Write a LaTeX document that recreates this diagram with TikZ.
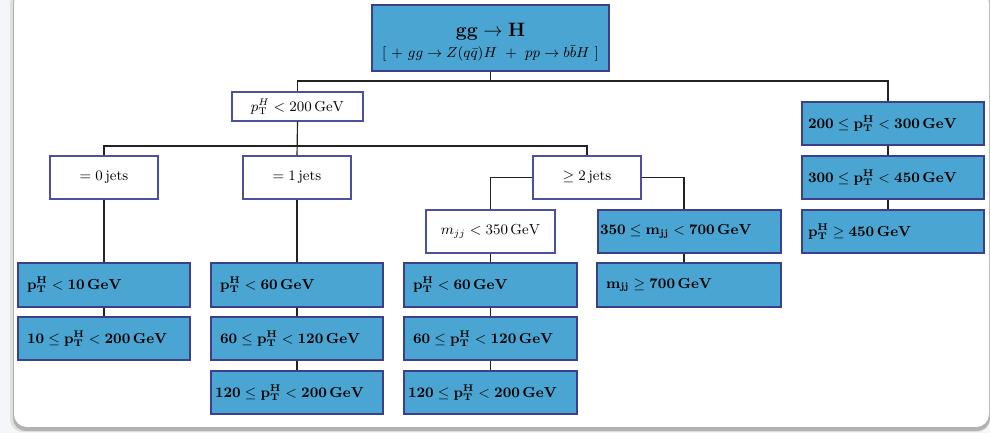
\documentclass[tikz,border=0pt]{standalone}
\usepackage{amsmath}
\usetikzlibrary{calc}
\definecolor{bgcol}{HTML}{F5F6FA}
\definecolor{boxblue}{HTML}{4AA5D2}
\definecolor{navy}{HTML}{3B3F8C}
\definecolor{wnavy}{HTML}{4B50A0}
\definecolor{linec}{HTML}{222222}
\newcommand\GeV{\,\mathrm{GeV}}
\newcommand\bGeV{\,\mathbf{GeV}}
\begin{document}
\begin{tikzpicture}[x=0.62pt,y=-0.62pt,
  every node/.style={font=\small},
  sz/.style 2 args={minimum width=#1*0.62pt, minimum height=#2*0.62pt},
  wbox/.style 2 args={draw=wnavy, line width=0.9pt, fill=white, sz={#1}{#2}, inner sep=0pt},
  bbox/.style n args={3}{draw=navy, line width=0.9pt, fill=boxblue, minimum height=#2*0.62pt,
     inner ysep=0pt, inner xsep=#3*0.62pt, text width={(#1-2*#3)*0.62pt}, align=left},
  conn/.style={draw=linec, line width=0.7pt}]
\useasboundingbox (0,0) rectangle (990,433);
% card
\fill[bgcol] (0,0) rectangle (990,433);
\fill[gray!25, rounded corners=8] (10,-10) rectangle (990,432);
\fill[gray!60, rounded corners=8] (13,-10) rectangle (990,431);
\fill[white, rounded corners=8] (14,-10) rectangle (989,427);

% nodes
\node[draw=navy, line width=0.9pt, fill=boxblue, sz={237}{66}, inner sep=0pt, align=center] (root) at (490.5,38)
  {\rule{0pt}{14pt}{\large$\mathbf{gg \rightarrow H}$}\\[2pt] $[\ +\ gg \rightarrow Z(q\bar{q})H\ +\ pp \rightarrow b\bar{b}H\ ]$};
\node[wbox={131}{29}] (pt) at (297.5,106.5) {$p_{\mathrm{T}}^{H} < 200\GeV$};

\node[wbox={108}{43}] (j0) at (104,177.5) {$= 0\,$jets};
\node[wbox={108}{43}] (j1) at (297,177.5) {$= 1\,$jets};
\node[wbox={108}{43}] (j2) at (587,177.5) {$\geq 2\,$jets};

\node[wbox={129}{43}] (mlow) at (490.5,231.5) {$m_{jj} < 350\GeV$};
\node[bbox={183}{43}{2}] (mmid) at (689.5,231.5) {$\mathbf{350 \leq m_{jj} < 700}\bGeV$};
\node[bbox={184}{44}{9}] (mhigh) at (689,285) {$\mathbf{m_{jj} \geq 700}\bGeV$};

\node[bbox={172}{44}{9}] (a1) at (104,285) {$\mathbf{p_T^H < 10}\bGeV$};
\node[bbox={172}{43}{9}] (a2) at (104,338.5) {$\mathbf{10 \leq p_T^H < 200}\bGeV$};

\node[bbox={172}{44}{9}] (b1) at (297,285) {$\mathbf{p_T^H < 60}\bGeV$};
\node[bbox={172}{43}{9}] (b2) at (297,338.5) {$\mathbf{60 \leq p_T^H < 120}\bGeV$};
\node[bbox={172}{43}{4}] (b3) at (297,392.5) {$\mathbf{120 \leq p_T^H < 200}\bGeV$};

\node[bbox={173}{44}{9}] (c1) at (490.5,285) {$\mathbf{p_T^H < 60}\bGeV$};
\node[bbox={173}{43}{9}] (c2) at (490.5,338.5) {$\mathbf{60 \leq p_T^H < 120}\bGeV$};
\node[bbox={173}{43}{4}] (c3) at (490.5,392.5) {$\mathbf{120 \leq p_T^H < 200}\bGeV$};

\node[bbox={182}{43}{6}] (r1) at (893,123.5) {$\mathbf{200 \leq p_T^H < 300}\bGeV$};
\node[bbox={182}{43}{6}] (r2) at (893,177.5) {$\mathbf{300 \leq p_T^H < 450}\bGeV$};
\node[bbox={182}{43}{6}] (r3) at (893,231.5) {$\mathbf{p_T^H \geq 450}\bGeV$};

% connector guides
\coordinate (busA) at (0,81);
\coordinate (busB) at (0,146);
\coordinate (xr) at (888,0);
\coordinate (xm) at (684,0);

% connectors
\draw[conn] (root.south) |- (busA -| pt.north) -- (pt.north);
\draw[conn] (root.south) |- (busA -| xr) -- (xr |- r1.north);
\draw[conn] (xr |- r1.south) -- (xr |- r2.north);
\draw[conn] (xr |- r2.south) -- (xr |- r3.north);

\draw[conn] (pt.south) |- (busB -| j0.north) -- (j0.north);
\draw[conn] (pt.south) -- (j1.north);
\draw[conn] (pt.south) |- (busB -| j2.north) -- (j2.north);

\draw[conn] (j0.south) -- (a1.north);
\draw[conn] (a1.south) -- (a2.north);
\draw[conn] (j1.south) -- (b1.north);
\draw[conn] (b1.south) -- (b2.north);
\draw[conn] (b2.south) -- (b3.north);

\draw[conn] (j2.west) -| (mlow.north);
\draw[conn] (j2.east) -| (xm |- mmid.north);
\draw[conn] (mlow.south) -- (c1.north);
\draw[conn] (c1.south) -- (c2.north);
\draw[conn] (c2.south) -- (c3.north);
\draw[conn] (xm |- mmid.south) -- (xm |- mhigh.north);
\end{tikzpicture}
\end{document}
